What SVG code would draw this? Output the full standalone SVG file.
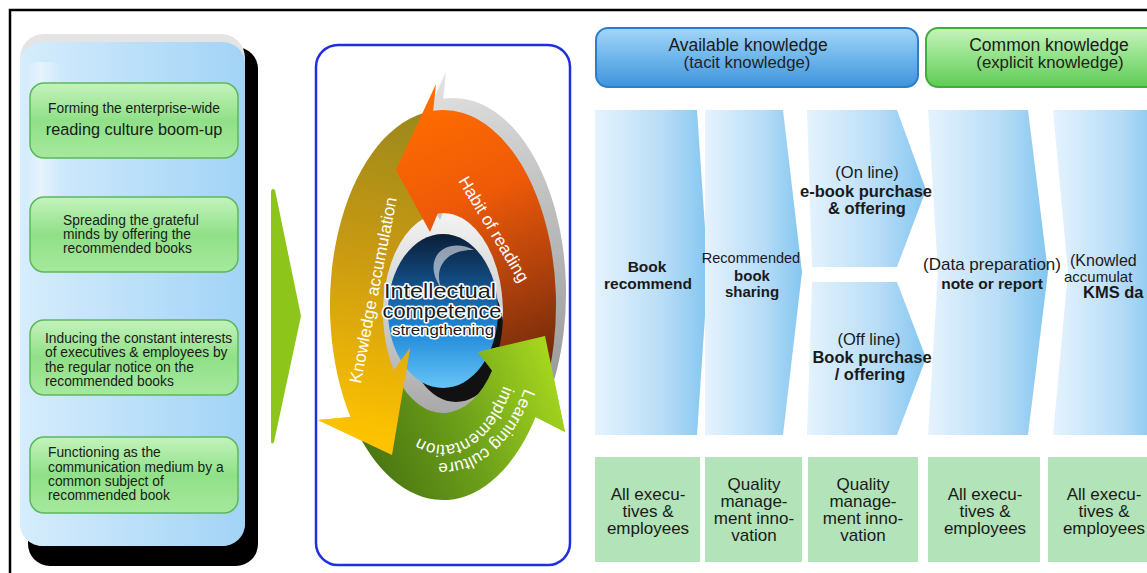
<svg xmlns="http://www.w3.org/2000/svg" width="1147" height="573" viewBox="0 0 1147 573">
  <defs>
    <linearGradient id="gPanel" x1="0" y1="0" x2="1" y2="0">
      <stop offset="0" stop-color="#d6edfc"/>
      <stop offset="1" stop-color="#a2d3f6"/>
    </linearGradient>
    <linearGradient id="gGloss" x1="0" y1="0" x2="1" y2="0">
      <stop offset="0" stop-color="#ffffff" stop-opacity="0"/>
      <stop offset="0.4" stop-color="#ffffff" stop-opacity="0.45"/>
      <stop offset="1" stop-color="#ffffff" stop-opacity="0"/>
    </linearGradient>
    <linearGradient id="gBox" x1="0" y1="0" x2="0" y2="1">
      <stop offset="0" stop-color="#c4f3bc"/>
      <stop offset="0.5" stop-color="#90e088"/>
      <stop offset="1" stop-color="#a6e99d"/>
    </linearGradient>
    <linearGradient id="gChev" x1="0" y1="0" x2="1" y2="0">
      <stop offset="0" stop-color="#e5f3fd"/>
      <stop offset="0.6" stop-color="#b8ddf7"/>
      <stop offset="1" stop-color="#84c6f0"/>
    </linearGradient>
    <linearGradient id="gHeadBlue" x1="0" y1="0" x2="0" y2="1">
      <stop offset="0" stop-color="#a4d6f7"/>
      <stop offset="0.5" stop-color="#6db6ec"/>
      <stop offset="1" stop-color="#3f93dc"/>
    </linearGradient>
    <linearGradient id="gHeadGreen" x1="0" y1="0" x2="0" y2="1">
      <stop offset="0" stop-color="#c6f4bd"/>
      <stop offset="0.5" stop-color="#90e186"/>
      <stop offset="1" stop-color="#5fcb55"/>
    </linearGradient>
    <linearGradient id="gOr" gradientUnits="userSpaceOnUse" x1="420" y1="100" x2="545" y2="390">
      <stop offset="0" stop-color="#ff6d00"/>
      <stop offset="0.35" stop-color="#ee5a08"/>
      <stop offset="0.7" stop-color="#a33c0c"/>
      <stop offset="1" stop-color="#5c2408"/>
    </linearGradient>
    <linearGradient id="gYe" gradientUnits="userSpaceOnUse" x1="420" y1="110" x2="350" y2="440">
      <stop offset="0" stop-color="#9a881c"/>
      <stop offset="0.45" stop-color="#c99a12"/>
      <stop offset="1" stop-color="#ffc400"/>
    </linearGradient>
    <linearGradient id="gGr" gradientUnits="userSpaceOnUse" x1="360" y1="440" x2="555" y2="360">
      <stop offset="0" stop-color="#4a7512"/>
      <stop offset="0.5" stop-color="#6ea21a"/>
      <stop offset="1" stop-color="#a8d81e"/>
    </linearGradient>
    <linearGradient id="gGrey" gradientUnits="userSpaceOnUse" x1="440" y1="70" x2="570" y2="380">
      <stop offset="0" stop-color="#e4e4e4"/>
      <stop offset="1" stop-color="#9c9c9c"/>
    </linearGradient>
    <linearGradient id="gInner" x1="0" y1="0" x2="0" y2="1">
      <stop offset="0" stop-color="#f4f4f4"/>
      <stop offset="1" stop-color="#a8a8a8"/>
    </linearGradient>
    <linearGradient id="gBall" x1="0" y1="0" x2="0" y2="1">
      <stop offset="0" stop-color="#0a1e38"/>
      <stop offset="0.3" stop-color="#124a80"/>
      <stop offset="0.62" stop-color="#1e88d8"/>
      <stop offset="1" stop-color="#66c4f6"/>
    </linearGradient>
    <!-- band of the orange arrow, reused for its grey extrusion -->
    <path id="orangeBand" d="M543.7,393.5 A113,195 0 0 0 433.2,110.7 L436,84 L396,170 L430,232 L437.8,213.4 A60,100 0 0 1 496.5,358.4 Z"/>
    <path id="arcCulture" d="M525.3,386.4 A96,158 0 0 1 359.9,384"/>
    <path id="arcImpl" d="M506,378 A72,130 0 0 1 380,378"/>
  </defs>
  <style>
    text { font-family: "Liberation Sans", Arial, sans-serif; fill: #1a1a1a; }
    .side { font-size: 13.8px; }
    .mid { text-anchor: middle; }
    .hd { font-size: 17.5px; text-anchor: middle; }
    .hd2 { font-size: 16.8px; text-anchor: middle; fill: #222; }
    .par { font-size: 16.5px; }
    .bold { font-weight: bold; }
    .foot { font-size: 17px; text-anchor: middle; }
    .ring { fill: #ffffff; font-size: 17px; }
    .core { text-anchor: middle; stroke: #ffffff; stroke-width: 3; paint-order: stroke; stroke-linejoin: round; fill: #1c1c1c; }
    .greenbox { fill: url(#gBox); stroke: #5cb85c; stroke-width: 1.5; }
    .chev { fill: url(#gChev); }
    .cell { fill: #b3e3b8; }
  </style>

  <rect width="1147" height="573" fill="#ffffff"/>

  <!-- page frame -->
  <path d="M10,573 V10 H1147" fill="none" stroke="#000000" stroke-width="2.5"/>

  <!-- left panel: activities -->
  <g id="activity-panel">
    <rect x="28" y="47" width="230" height="519" rx="22" fill="#000000"/>
    <rect x="20" y="34" width="225" height="512" rx="24" fill="#e4e4e4"/>
    <rect x="20" y="42" width="225" height="504" rx="22" fill="url(#gPanel)"/>
    <rect x="26" y="62" width="36" height="170" rx="12" fill="url(#gGloss)"/>
  </g>

  <g id="act-1">
    <rect class="greenbox" x="30" y="83" width="208" height="75" rx="14"/>
    <text class="mid" x="134" y="113" font-size="13.8">Forming the enterprise-wide</text>
    <text class="mid" x="134" y="135" font-size="16.3">reading culture boom-up</text>
  </g>
  <g id="act-2">
    <rect class="greenbox" x="30" y="197" width="208" height="75" rx="14"/>
    <text class="side" x="63" y="225">Spreading the grateful</text>
    <text class="side" x="63" y="239">minds by offering the</text>
    <text class="side" x="63" y="253">recommended books</text>
  </g>
  <g id="act-3">
    <rect class="greenbox" x="30" y="320" width="208" height="75" rx="14"/>
    <text class="side" x="45" y="343">Inducing the constant interests</text>
    <text class="side" x="45" y="357">of executives &amp; employees by</text>
    <text class="side" x="45" y="372">the regular notice on the</text>
    <text class="side" x="45" y="386">recommended books</text>
  </g>
  <g id="act-4">
    <rect class="greenbox" x="30" y="437" width="208" height="76" rx="14"/>
    <text class="side" x="48" y="457">Functioning as the</text>
    <text class="side" x="48" y="472">communication medium by a</text>
    <text class="side" x="48" y="486">common subject of</text>
    <text class="side" x="48" y="500">recommended book</text>
  </g>

  <!-- connectors -->
  <g id="connectors">
    <path d="M271,193 Q271,187 275,190 L301,316 L274,442 Q271,446 271,440 Z" fill="#8ec51a"/>
  </g>

  <!-- cycle -->
  <g id="cycle">
    <rect x="316" y="45" width="254" height="520" rx="22" fill="#ffffff" stroke="#1f2fe0" stroke-width="2.5"/>
    <ellipse cx="443" cy="313" rx="62" ry="102" fill="url(#gInner)"/>
    <ellipse cx="456" cy="334" rx="48" ry="68" fill="#111111"/>
    <ellipse cx="443" cy="311" rx="55" ry="77" fill="url(#gBall)"/>
    <path d="M474,250 C447,236 420,257 441,288 C433,265 449,249 474,250 Z" fill="#ffffff" opacity="0.55"/>

    <use href="#orangeBand" transform="translate(10,-12)" fill="url(#gGrey)"/>
    <!-- yellow: knowledge accumulation -->
    <path d="M423.4,113 A113,195 0 0 0 350.4,416.9 L318,420 L392,455 L410,348 L393.9,370.4 A60,100 0 0 1 432.6,214.5 Z" fill="url(#gYe)"/>
    <!-- green: learning culture -->
    <path d="M356.4,430.3 A113,195 0 0 0 535.6,416.9 L565,432 L545,336 L478,352 L492.1,370.4 A60,100 0 0 1 397,377.3 Z" fill="url(#gGr)"/>
    <!-- orange: habit of reading -->
    <use href="#orangeBand" fill="url(#gOr)"/>
    <!-- heads laid over the start of the following band -->
    <polygon points="350.4,416.9 318,420 392,455 410,348 393.9,370.4" fill="url(#gYe)"/>
    <polygon points="535.6,416.9 565,432 545,336 478,352 492.1,370.4" fill="url(#gGr)"/>

    <text class="ring mid" transform="translate(373,290) rotate(-79)" y="6">Knowledge accumulation</text>
    <text class="ring mid" transform="translate(494,229) rotate(59)" y="6">Habit of reading</text>
    <text class="ring" font-size="16"><textPath href="#arcCulture" startOffset="2">Learning culture</textPath></text>
    <text class="ring" font-size="12"><textPath href="#arcImpl" startOffset="8">implementation</textPath></text>

    <text class="core" x="440" y="298" font-size="21" textLength="112" lengthAdjust="spacingAndGlyphs">Intellectual</text>
    <text class="core" x="442" y="318" font-size="20" textLength="119" lengthAdjust="spacingAndGlyphs">competence</text>
    <text class="core" x="443" y="335" font-size="15" stroke-width="2.5" textLength="102" lengthAdjust="spacingAndGlyphs">strengthening</text>
  </g>

  <!-- knowledge type headers -->
  <g id="hdr-available">
    <rect x="596" y="28" width="322" height="59" rx="12" fill="url(#gHeadBlue)" stroke="#2f7dc8" stroke-width="2"/>
    <text class="hd" x="748" y="51">Available knowledge</text>
    <text class="hd2" x="747" y="68">(tacit knowledge)</text>
  </g>
  <g id="hdr-common">
    <rect x="926" y="28" width="240" height="59" rx="12" fill="url(#gHeadGreen)" stroke="#3fae3a" stroke-width="2"/>
    <text class="hd" x="1049" y="51">Common knowledge</text>
    <text class="hd2" x="1050" y="68">(explicit knowledge)</text>
  </g>

  <!-- process steps -->
  <g id="step-recommend">
    <path class="chev" d="M595,110 H697 L708,272 L697,435 H595 Z"/>
    <text class="mid bold" x="647" y="272" font-size="15.5">Book</text>
    <text class="mid bold" x="648" y="289" font-size="15.5">recommend</text>
  </g>
  <g id="step-sharing">
    <path class="chev" d="M705,110 H783 L802,272 L783,435 H705 Z"/>
    <text class="mid" x="751" y="263" font-size="14.5">Recommended</text>
    <text class="mid bold" x="752" y="281" font-size="15">book</text>
    <text class="mid bold" x="752" y="297" font-size="15">sharing</text>
  </g>
  <g id="step-online">
    <path class="chev" d="M807,110 H897 L926,190 L897,267 H812 Z"/>
    <text class="mid par" x="867" y="178">(On line)</text>
    <text class="mid bold" x="866" y="197" font-size="16.5">e-book purchase</text>
    <text class="mid bold" x="867" y="214" font-size="16.5">&amp; offering</text>
  </g>
  <g id="step-offline">
    <path class="chev" d="M812,282 H897 L926,358 L897,435 H807 Z"/>
    <text class="mid par" x="869" y="345">(Off line)</text>
    <text class="mid bold" x="872" y="363" font-size="16.5">Book purchase</text>
    <text class="mid bold" x="870" y="380" font-size="16.5">/ offering</text>
  </g>
  <g id="step-note">
    <path class="chev" d="M928,110 H1028 L1048,272 L1028,435 H928 L938,272 Z"/>
    <text class="mid" x="992" y="270" font-size="17">(Data preparation)</text>
    <text class="mid bold" x="992" y="289" font-size="15.5">note or report</text>
  </g>
  <g id="step-kms">
    <path class="chev" d="M1053,110 H1160 V435 H1053 L1068,272 Z"/>
    <text x="1070" y="266" font-size="16">(Knowled</text>
    <text x="1064" y="282" font-size="15">accumulat</text>
    <text class="bold" x="1083" y="298" font-size="16.5">KMS da</text>
  </g>

  <!-- responsible parties -->
  <g id="who-1">
    <rect class="cell" x="595" y="457" width="105" height="105"/>
    <text class="foot" x="648" y="500">All execu-</text>
    <text class="foot" x="648" y="517">tives &amp;</text>
    <text class="foot" x="648" y="534">employees</text>
  </g>
  <g id="who-2">
    <rect class="cell" x="705" y="457" width="97" height="105"/>
    <text class="foot" x="754" y="490">Quality</text>
    <text class="foot" x="754" y="507">manage-</text>
    <text class="foot" x="754" y="524">ment inno-</text>
    <text class="foot" x="754" y="541">vation</text>
  </g>
  <g id="who-3">
    <rect class="cell" x="808" y="457" width="110" height="105"/>
    <text class="foot" x="863" y="490">Quality</text>
    <text class="foot" x="863" y="507">manage-</text>
    <text class="foot" x="863" y="524">ment inno-</text>
    <text class="foot" x="863" y="541">vation</text>
  </g>
  <g id="who-4">
    <rect class="cell" x="928" y="457" width="112" height="105"/>
    <text class="foot" x="985" y="500">All execu-</text>
    <text class="foot" x="985" y="517">tives &amp;</text>
    <text class="foot" x="985" y="534">employees</text>
  </g>
  <g id="who-5">
    <rect class="cell" x="1048" y="457" width="110" height="105"/>
    <text class="foot" x="1104" y="500">All execu-</text>
    <text class="foot" x="1104" y="517">tives &amp;</text>
    <text class="foot" x="1104" y="534">employees</text>
  </g>
</svg>
